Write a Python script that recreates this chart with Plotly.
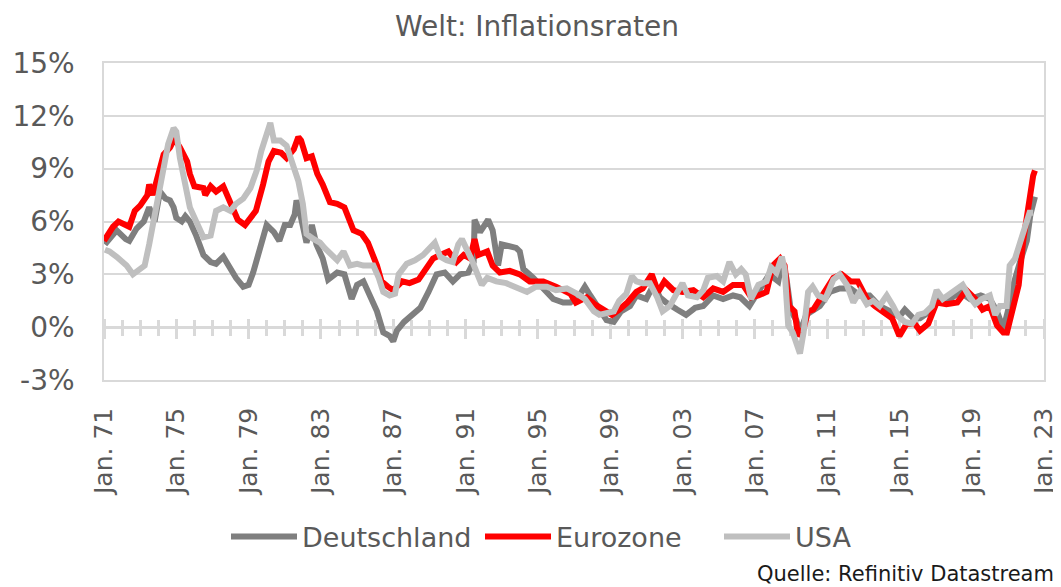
import plotly.graph_objects as go

# ---- data ----
years_tick = [1971, 1975, 1979, 1983, 1987, 1991, 1995, 1999, 2003, 2007, 2011, 2015, 2019, 2023]
tick_text = ["Jan. 71", "Jan. 75", "Jan. 79", "Jan. 83", "Jan. 87", "Jan. 91", "Jan. 95",
             "Jan. 99", "Jan. 03", "Jan. 07", "Jan. 11", "Jan. 15", "Jan. 19", "Jan. 23"]
y_ticks = [-3, 0, 3, 6, 9, 12, 15]
y_text = ["-3%", "0%", "3%", "6%", "9%", "12%", "15%"]

de_t = [1971.05, 1971.3, 1971.7, 1972.2, 1972.4, 1972.8, 1973.2, 1973.5, 1973.8, 1974.1, 1974.4, 1974.65,
        1974.85, 1975.0, 1975.3, 1975.5, 1975.75, 1976.1, 1976.5, 1976.9, 1977.2, 1977.6, 1978.0, 1978.3,
        1978.7, 1979.0, 1979.25, 1979.6, 1980.0, 1980.4, 1980.7, 1981.0, 1981.3, 1981.55, 1981.65, 1981.9,
        1982.2, 1982.5, 1982.75, 1983.1, 1983.4, 1983.9, 1984.3, 1984.7, 1985.0, 1985.35, 1985.7, 1986.1,
        1986.45, 1986.8, 1987.0, 1987.2, 1987.6, 1988.0, 1988.5, 1988.95, 1989.4, 1989.85, 1990.3, 1990.7,
        1991.15, 1991.45, 1991.5, 1991.8, 1992.25, 1992.5, 1992.8, 1993.0, 1993.45, 1993.8, 1994.0, 1994.2,
        1994.75, 1995.3, 1995.85, 1996.4, 1996.8, 1997.3, 1997.6, 1997.9, 1998.4, 1998.8, 1999.2, 1999.6,
        2000.1, 2000.45, 2001.0, 2001.4, 2001.75, 2002.1, 2002.7, 2003.2, 2003.7, 2004.15, 2004.7, 2005.25,
        2005.8, 2006.2, 2006.7, 2007.3, 2007.8, 2008.3, 2008.5, 2008.75, 2009.0, 2009.3, 2009.5, 2009.85,
        2010.2, 2010.6, 2011.15, 2011.7, 2012.3, 2012.8, 2013.35, 2013.9, 2014.5, 2015.0, 2015.3, 2015.77,
        2016.14, 2016.7, 2017.25, 2017.8, 2018.35, 2018.9, 2019.5, 2020.0, 2020.4, 2020.75, 2021.0, 2021.3,
        2021.67, 2022.05, 2022.25, 2022.5]
de_v = [4.7, 5.0, 5.5, 5.0, 4.9, 5.6, 6.0, 6.8, 6.0, 7.7, 7.3, 7.2,
        6.8, 6.2, 6.0, 6.3, 6.0, 5.2, 4.1, 3.7, 3.6, 4.0, 3.3, 2.8,
        2.3, 2.4, 3.1, 4.5, 5.8, 5.4, 4.9, 5.8, 5.8, 6.4, 7.2, 6.2,
        4.8, 5.8, 4.7, 3.9, 2.7, 3.1, 3.0, 1.6, 2.4, 2.6, 1.8, 0.9,
        -0.3, -0.5, -0.8, -0.2, 0.3, 0.7, 1.1, 2.0, 3.0, 3.1, 2.6, 3.0,
        3.1, 3.7, 6.1, 5.4, 6.1, 5.5, 3.5, 4.7, 4.6, 4.5, 4.3, 3.3,
        2.8, 2.2, 1.6, 1.4, 1.4, 1.8, 2.3, 1.8, 1.1, 0.4, 0.3, 0.9,
        1.2, 1.8, 1.6, 2.4, 1.7, 1.4, 1.0, 0.7, 1.1, 1.2, 1.8, 1.6,
        1.8, 1.7, 1.2, 2.2, 3.0, 2.6, 3.7, 2.8, 0.9, 0.4, -0.3, 0.7,
        0.9, 1.2, 2.0, 2.2, 2.2, 1.8, 1.8, 1.2, 0.9, 0.6, 1.0, 0.5,
        0.5, 0.9, 1.6, 1.6, 2.0, 1.6, 1.8, 1.6, 0.9, -0.1, 0.9, 2.4,
        3.7, 4.9, 6.4, 7.4]

ez_t = [1971.0, 1971.5, 1971.8, 1972.4, 1972.7, 1973.0, 1973.4, 1973.5, 1973.7, 1974.0, 1974.3, 1974.65,
        1974.9, 1975.2, 1975.6, 1975.75, 1976.0, 1976.5, 1976.6, 1976.9, 1977.2, 1977.6, 1977.8, 1978.15,
        1978.4, 1978.8, 1979.1, 1979.4, 1979.8, 1980.1, 1980.4, 1980.8, 1981.1, 1981.5, 1981.75, 1981.9,
        1982.2, 1982.5, 1982.8, 1983.1, 1983.5, 1983.9, 1984.3, 1984.8, 1985.25, 1985.6, 1986.1, 1986.35,
        1986.7, 1987.0, 1987.5, 1987.9, 1988.4, 1988.85, 1989.2, 1989.6, 1990.05, 1990.5, 1990.9, 1991.25,
        1991.5, 1991.7, 1992.2, 1992.5, 1992.9, 1993.45, 1994.0, 1994.55, 1995.3, 1996.0, 1996.8, 1997.1,
        1997.7, 1998.15, 1998.6, 1999.1, 1999.5, 1999.95, 2000.45, 2000.8, 2001.3, 2001.65, 2002.0, 2002.5,
        2003.0, 2003.6, 2004.15, 2004.7, 2005.25, 2005.8, 2006.35, 2006.8, 2007.2, 2007.65, 2008.0, 2008.4,
        2008.65, 2008.9, 2009.2, 2009.4, 2009.7, 2009.95, 2010.24, 2010.6, 2011.0, 2011.35, 2011.8, 2012.3,
        2012.7, 2013.2, 2013.65, 2014.1, 2014.6, 2015.0, 2015.4, 2015.85, 2016.14, 2016.6, 2017.06, 2017.6,
        2018.2, 2018.7, 2019.2, 2019.6, 2020.0, 2020.4, 2020.75, 2020.95, 2021.3, 2021.6, 2021.85, 2022.05,
        2022.25, 2022.4, 2022.5]
ez_v = [4.9, 5.7, 6.0, 5.7, 6.6, 6.9, 7.5, 8.1, 7.5, 8.7, 9.8, 10.2,
        10.7, 10.2, 9.4, 8.7, 8.0, 7.9, 7.5, 8.0, 7.7, 8.0, 7.5, 6.6,
        6.1, 5.8, 6.2, 6.6, 8.1, 9.4, 10.0, 9.9, 9.6, 10.1, 10.8, 10.6,
        9.6, 9.7, 8.7, 8.1, 7.1, 7.0, 6.8, 5.5, 5.3, 4.8, 3.5, 2.6,
        2.3, 2.1, 2.6, 2.5, 2.7, 3.3, 3.9, 4.1, 4.3, 3.7, 4.1, 3.9,
        5.0, 4.1, 4.3, 3.5, 3.1, 3.2, 3.0, 2.6, 2.6, 2.3, 1.9, 1.4,
        1.7, 1.3, 1.0, 0.7, 1.0, 1.4, 2.0, 2.2, 3.0, 2.0, 2.6, 2.1,
        2.0, 2.1, 1.7, 2.2, 2.0, 2.4, 2.4, 1.7, 1.8, 2.0, 3.5, 3.9,
        3.5, 1.2, 0.9, -0.5, -0.1, 0.9, 1.0, 1.6, 2.2, 2.8, 3.0, 2.6,
        2.6, 1.6, 1.2, 0.9, 0.5, -0.5, 0.2, 0.2, -0.2, 0.2, 1.4, 1.3,
        1.4, 2.1, 1.6, 1.0, 1.2, 0.1, -0.3, -0.3, 1.2, 2.4, 4.9, 6.4,
        7.5, 8.6, 8.9]

us_t = [1971.05, 1971.3, 1971.7, 1972.0, 1972.25, 1972.6, 1973.0, 1973.25, 1973.5, 1973.7, 1974.0, 1974.3,
        1974.55, 1974.85, 1975.0, 1975.2, 1975.5, 1975.75, 1976.1, 1976.5, 1976.9, 1977.2, 1977.6, 1978.0,
        1978.3, 1978.7, 1979.1, 1979.45, 1979.7, 1980.0, 1980.2, 1980.4, 1980.75, 1981.1, 1981.5, 1981.75,
        1982.0, 1982.2, 1982.6, 1982.95, 1983.2, 1983.5, 1983.9, 1984.25, 1984.6, 1985.0, 1985.35, 1985.9,
        1986.2, 1986.45, 1986.8, 1987.1, 1987.3, 1987.75, 1988.2, 1988.65, 1989.0, 1989.3, 1989.6, 1989.95,
        1990.3, 1990.6, 1990.8, 1991.05, 1991.35, 1991.7, 1991.9, 1992.2, 1992.7, 1993.25, 1993.8, 1994.4,
        1994.9, 1995.5, 1996.0, 1996.6, 1997.15, 1997.6, 1998.1, 1998.4, 1998.8, 1999.2, 1999.5, 1999.9,
        2000.2, 2000.45, 2000.8, 2001.2, 2001.6, 2001.9, 2002.3, 2002.7, 2003.0, 2003.3, 2003.8, 2004.15,
        2004.4, 2004.9, 2005.25, 2005.6, 2005.95, 2006.25, 2006.5, 2006.8, 2007.2, 2007.65, 2007.9, 2008.2,
        2008.5, 2008.65, 2008.85, 2009.1, 2009.5, 2009.7, 2009.95, 2010.2, 2010.5, 2010.9, 2011.35, 2011.7,
        2012.1, 2012.45, 2012.8, 2013.2, 2013.55, 2013.9, 2014.3, 2014.65, 2014.95, 2015.3, 2015.7, 2016.05,
        2016.4, 2016.8, 2017.06, 2017.4, 2017.8, 2018.25, 2018.5, 2018.9, 2019.2, 2019.55, 2020.0, 2020.3,
        2020.56, 2020.93, 2021.1, 2021.4, 2021.67, 2021.95, 2022.2, 2022.4]
us_v = [4.4, 4.3, 4.0, 3.7, 3.5, 3.0, 3.3, 3.5, 4.7, 5.8, 7.5, 9.0,
        10.4, 11.3, 11.1, 9.6, 7.9, 6.8, 6.0, 5.1, 5.2, 6.6, 6.8, 6.6,
        7.0, 7.3, 7.9, 8.9, 10.0, 11.1, 11.6, 10.6, 10.6, 10.3, 9.2, 8.3,
        7.0, 5.3, 5.0, 4.8, 4.5, 4.2, 3.8, 4.3, 3.5, 3.6, 3.5, 3.5,
        2.8, 2.0, 1.8, 1.9, 3.0, 3.6, 3.8, 4.1, 4.5, 4.8, 4.0, 3.8,
        3.7, 4.7, 5.0, 4.5, 3.8, 2.9, 2.4, 2.8, 2.6, 2.5, 2.3, 2.0,
        2.3, 2.3, 2.1, 2.2, 1.9, 1.6, 0.9, 0.7, 0.8, 0.9, 1.5, 1.9,
        2.9, 2.6, 2.5, 2.5, 1.7, 0.9, 1.2, 2.0, 2.5, 1.8, 1.7, 2.1,
        2.8, 2.9, 2.6, 3.7, 3.0, 3.3, 3.0, 1.6, 2.4, 2.6, 3.4, 3.1,
        4.0, 3.3, 0.1, -0.3, -1.5, -0.3, 2.0, 2.3, 1.8, 1.6, 2.7, 3.0,
        2.4, 1.4, 2.0, 1.3, 1.5, 1.2, 1.8, 1.2, 0.6, 0.3, 0.2, 0.7,
        0.8, 1.2, 2.1, 1.6, 1.9, 2.2, 2.4, 1.7, 1.3, 1.6, 1.8, 0.7,
        1.2, 1.2, 3.5, 3.9, 4.7, 5.6, 6.5, 6.5]

series_names = ["Deutschland", "Eurozone", "USA"]
series_colors = ["#7F7F7F", "#FF0000", "#BFBFBF"]
legend_text_widths = [173, 158, 70]   # layout: width of each legend entry's text slot (px)

# ---- figure ----
# The page body has an 8px margin, so the figure is 8px smaller than the window
# and every position is measured from (8, 8).
OFF = 8
W, H = 1061 - OFF, 587 - OFF
PL, PR, PT, PB = 104, 1044, 63, 380        # plot area in window pixels
FONT = "DejaVu Sans, Verdana, sans-serif"
TXT = "#595959"
GRID = "#D9D9D9"

fig = go.Figure()
for name, t, v, c, lw in zip(series_names, [de_t, ez_t, us_t], [de_v, ez_v, us_v],
                             series_colors, legend_text_widths):
    fig.add_trace(go.Scatter(x=t, y=v, mode="lines", name=name, legendwidth=lw,
                             line=dict(color=c, width=6)))

# empty helper traces so the zero-line tick axes are drawn
fig.add_trace(go.Scatter(x=[], y=[], xaxis="x2", yaxis="y", showlegend=False, hoverinfo="skip"))
fig.add_trace(go.Scatter(x=[], y=[], xaxis="x3", yaxis="y", showlegend=False, hoverinfo="skip"))

zero_pos = (0 - y_ticks[0]) / (y_ticks[-1] - y_ticks[0])
major = years_tick
pw, ph = PR - PL, PB - PT

fig.update_layout(
    width=W, height=H,
    margin=dict(l=PL - OFF, r=W - (PR - OFF), t=PT - OFF, b=H - (PB - OFF), autoexpand=False),
    paper_bgcolor="white", plot_bgcolor="white",
    font=dict(family=FONT, color=TXT, size=27),
    title=dict(text="Welt: Inflationsraten", x=(537 - OFF) / W, xanchor="center",
               y=1 - (26 - OFF) / H, yanchor="middle", font=dict(size=28, color=TXT, family=FONT)),
    showlegend=True,
    legend=dict(orientation="h", x=(226 - PL) / pw, xanchor="left", y=(PB - 537) / ph,
                yanchor="middle",
                font=dict(size=27, color=TXT, family=FONT), bgcolor="rgba(0,0,0,0)",
                itemwidth=66, tracegroupgap=0),
    xaxis=dict(range=[1971, 2023], tickvals=years_tick, ticktext=tick_text, tickangle=-90,
               showgrid=False, zeroline=False, ticks="", showline=True, linecolor=GRID,
               linewidth=1.5, mirror=True, tickfont=dict(size=25, color=TXT, family=FONT),
               ticklabelstandoff=16, automargin=False),
    yaxis=dict(range=[y_ticks[0], y_ticks[-1]], tickvals=y_ticks, ticktext=y_text,
               showgrid=True, gridcolor=GRID, gridwidth=1.5, zeroline=True, zerolinecolor=GRID,
               zerolinewidth=3, showline=True, linecolor=GRID, linewidth=1.5, mirror=True,
               ticks="", tickfont=dict(size=28, color=TXT, family=FONT), ticklabelstandoff=22,
               automargin=False),
    xaxis2=dict(overlaying="x", anchor="free", position=zero_pos, side="bottom",
                range=[1971, 2023], tickvals=major, showticklabels=False, showgrid=False,
                zeroline=False, showline=False, ticks="outside", ticklen=11, tickwidth=2.5,
                tickcolor=GRID, layer="below traces", automargin=False,
                minor=dict(dtick=1, tick0=1971, ticks="outside", ticklen=8, tickwidth=2.5,
                           tickcolor=GRID, showgrid=False)),
    xaxis3=dict(overlaying="x", anchor="free", position=zero_pos, side="top",
                range=[1971, 2023], tickvals=major, showticklabels=False, showgrid=False,
                zeroline=False, showline=False, ticks="outside", ticklen=8, tickwidth=2.5,
                tickcolor=GRID, layer="below traces", automargin=False,
                minor=dict(dtick=1, tick0=1971, ticks="outside", ticklen=7, tickwidth=2.5,
                           tickcolor=GRID, showgrid=False)),
)

fig.add_annotation(text="Quelle: Refinitiv Datastream", xref="paper", yref="paper",
                   x=(1056 - PL) / pw, y=(PB - 574) / ph, xanchor="right", yanchor="middle",
                   showarrow=False, font=dict(size=21, color="#1A1A1A", family=FONT))

fig.write_html("out.html")
